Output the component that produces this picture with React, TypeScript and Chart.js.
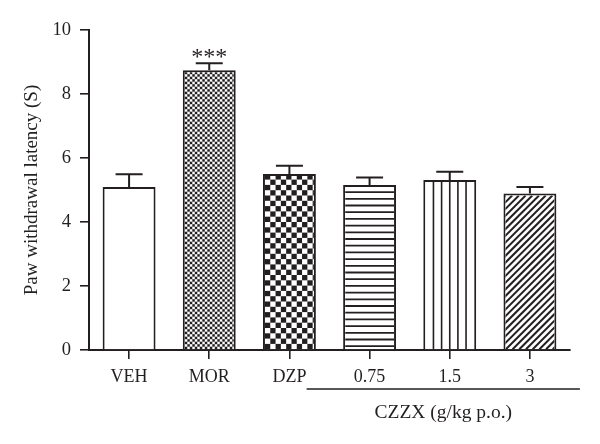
import React, { useEffect, useRef } from "react";
import { Chart, registerables } from "chart.js";

Chart.register(...registerables);

const categories = ["VEH", "MOR", "DZP", "0.75", "1.5", "3"];
const means = [5.09, 8.74, 5.5, 5.16, 5.31, 4.89];
const sems = [0.4, 0.22, 0.26, 0.23, 0.26, 0.2];
const fillStyles = ["none", "fineChecker", "checker", "hlines", "vlines", "diag"];
const yMin = 0;
const yMax = 10;
const yStep = 2;
const yTitle = "Paw withdrawal latency (S)";
const groupLabel = "CZZX (g/kg p.o.)";
const sigMarks = ["", "***", "", "", "", ""];

const INK = "#231f20";
const FONT = "Liberation Serif";

function drawPattern(ctx: CanvasRenderingContext2D, kind: string, L: number, T: number, R: number, B: number) {
  ctx.save();
  ctx.beginPath();
  ctx.rect(L, T, R - L, B - T);
  ctx.clip();
  ctx.fillStyle = INK;
  ctx.strokeStyle = INK;
  if (kind === "fineChecker" || kind === "checker") {
    const c = kind === "fineChecker" ? 2.5 : 5.3;
    let row = 0;
    for (let y = B; y > T - c; y -= c, row++) {
      let col = 0;
      for (let x = L; x < R; x += c, col++) {
        if ((row + col) % 2 === 0) ctx.fillRect(x, y - c, c, c);
      }
    }
  } else if (kind === "hlines") {
    ctx.lineWidth = 1.8;
    for (let y = B - 3; y > T; y -= 6.7) {
      ctx.beginPath();
      ctx.moveTo(L, y);
      ctx.lineTo(R, y);
      ctx.stroke();
    }
  } else if (kind === "vlines") {
    ctx.lineWidth = 1.6;
    const w = (R - L) / 6;
    for (let i = 1; i < 6; i++) {
      const x = L + i * w;
      ctx.beginPath();
      ctx.moveTo(x, T);
      ctx.lineTo(x, B);
      ctx.stroke();
    }
  } else if (kind === "diag") {
    ctx.lineWidth = 2;
    const h = B - T;
    for (let x = L - h; x < R + h; x += 6.7) {
      ctx.beginPath();
      ctx.moveTo(x, B);
      ctx.lineTo(x + h, T);
      ctx.stroke();
    }
  }
  ctx.restore();
}

const decorPlugin = {
  id: "decor",
  afterDatasetsDraw(chart: any) {
    const ctx: CanvasRenderingContext2D = chart.ctx;
    const meta = chart.getDatasetMeta(0);
    const ys = chart.scales.y;
    const bw = 2;
    meta.data.forEach((bar: any, i: number) => {
      const { x, y, base, width } = bar.getProps(["x", "y", "base", "width"], true);
      const L = x - width / 2 + bw;
      const R = x + width / 2 - bw;
      const T = y + bw;
      const B = base;
      drawPattern(ctx, fillStyles[i], L, T, R, B);
      const top = ys.getPixelForValue(means[i] + sems[i]);
      ctx.save();
      ctx.strokeStyle = INK;
      ctx.lineWidth = 2;
      ctx.beginPath();
      ctx.moveTo(x, y);
      ctx.lineTo(x, top);
      ctx.moveTo(x - 13.5, top);
      ctx.lineTo(x + 13.5, top);
      ctx.stroke();
      if (sigMarks[i]) {
        ctx.fillStyle = INK;
        ctx.font = `24px '${FONT}'`;
        ctx.textAlign = "center";
        ctx.textBaseline = "alphabetic";
        ctx.fillText(sigMarks[i], x, top + 1);
      }
      ctx.restore();
    });
  },
  afterDraw(chart: any) {
    const ctx: CanvasRenderingContext2D = chart.ctx;
    const xs = chart.scales.x;
    const area = chart.chartArea;
    const x1 = xs.getPixelForValue(3) - 63;
    const x2 = xs.getPixelForValue(5) + 50;
    const ly = area.bottom + 39;
    ctx.save();
    ctx.strokeStyle = INK;
    ctx.lineWidth = 1.6;
    ctx.beginPath();
    ctx.moveTo(x1, ly);
    ctx.lineTo(x2, ly);
    ctx.stroke();
    ctx.fillStyle = INK;
    ctx.font = `19.5px '${FONT}'`;
    ctx.textAlign = "center";
    ctx.textBaseline = "middle";
    ctx.fillText(groupLabel, (x1 + x2) / 2, area.bottom + 63);
    ctx.restore();
  },
};

export default function App() {
  const ref = useRef<HTMLCanvasElement>(null);
  useEffect(() => {
    const chart = new Chart(ref.current as HTMLCanvasElement, {
      type: "bar",
      data: {
        labels: categories,
        datasets: [
          {
            data: means,
            backgroundColor: "#ffffff",
            borderColor: INK,
            borderWidth: 2,
            borderSkipped: "bottom",
            barPercentage: 0.66,
            categoryPercentage: 1,
          },
        ],
      },
      options: {
        animation: false,
        responsive: false,
        maintainAspectRatio: false,
        devicePixelRatio: 1,
        layout: { padding: { left: 0, right: 30, top: 30, bottom: 0 } },
        plugins: { legend: { display: false }, tooltip: { enabled: false } },
        scales: {
          x: {
            offset: true,
            grid: { offset: false, drawOnChartArea: false, drawTicks: true, tickLength: 9, color: INK, lineWidth: 1.6 },
            border: { color: INK, width: 2 },
            ticks: { color: INK, font: { family: FONT, size: 18 }, padding: 7, maxRotation: 0 },
            afterFit: (s: any) => {
              s.height = 94;
            },
          },
          y: {
            min: yMin,
            max: yMax,
            grid: { drawOnChartArea: false, drawTicks: true, tickLength: 9, color: INK, lineWidth: 1.6 },
            border: { color: INK, width: 2 },
            ticks: { stepSize: yStep, color: INK, font: { family: FONT, size: 18.5 }, padding: 9 },
            title: { display: true, text: yTitle, color: INK, font: { family: FONT, size: 19 }, padding: { top: 21, bottom: 0 } },
            afterFit: (s: any) => {
              s.width = 89;
            },
          },
        },
      },
      plugins: [decorPlugin],
    } as any);
    return () => chart.destroy();
  }, []);
  return (
    <div style={{ position: "fixed", left: 0, top: 0, width: 600, height: 444, background: "#fff" }}>
      <canvas ref={ref} width={600} height={444} />
    </div>
  );
}
